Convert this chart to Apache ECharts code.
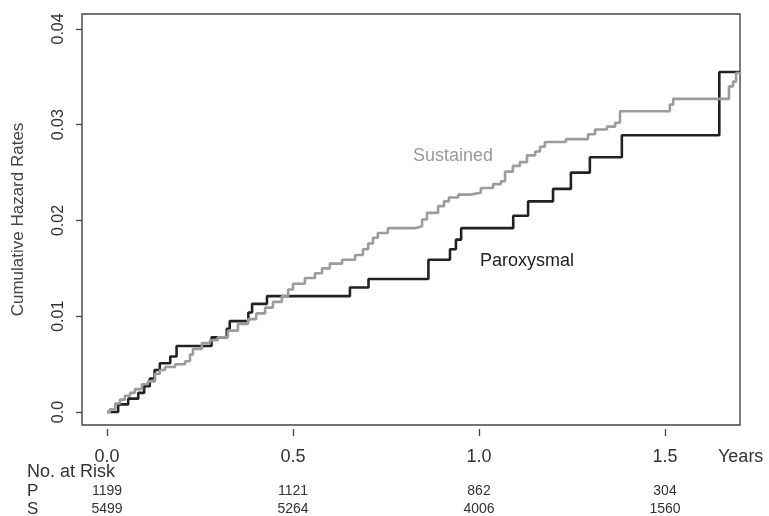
<!DOCTYPE html>
<html><head><meta charset="utf-8">
<script src="https://cdn.jsdelivr.net/npm/echarts@6/dist/echarts.min.js"></script>
<style>html,body{margin:0;padding:0;background:#fff}#c{width:769px;height:516px}</style>
</head><body><div id="c"></div>
<script>
const xTicks = [0, 0.5, 1.0, 1.5];
const xTickLabels = ['0.0', '0.5', '1.0', '1.5'];
const yTicks = [0, 0.01, 0.02, 0.03, 0.04];
const yTickLabels = ['0.0', '0.01', '0.02', '0.03', '0.04'];
const riskP = [1199, 1121, 862, 304];
const riskS = [5499, 5264, 4006, 1560];

const parTimes = [0,0.030,0.057,0.084,0.100,0.115,0.128,0.142,0.170,0.187,0.281,0.322,0.330,0.380,0.390,0.430,0.653,0.703,0.864,0.922,0.938,0.952,1.092,1.132,1.199,1.247,1.298,1.384,1.646,1.702];
const parValues = [0,0.0008,0.0014,0.0020,0.0027,0.0035,0.0044,0.0051,0.0058,0.0069,0.0078,0.0087,0.0095,0.0104,0.0113,0.0121,0.0130,0.0139,0.0159,0.0170,0.0180,0.0192,0.0205,0.0220,0.0233,0.0250,0.0266,0.0289,0.0355,0.0355];

const susTimes = [0,0.008,0.022,0.035,0.048,0.062,0.075,0.094,0.110,0.129,0.142,0.156,0.183,0.210,0.223,0.231,0.255,0.277,0.298,0.325,0.352,0.379,0.401,0.425,0.446,0.470,0.487,0.500,0.532,0.559,0.578,0.599,0.632,0.667,0.688,0.702,0.715,0.728,0.755,0.828,0.847,0.860,0.890,0.906,0.919,0.944,0.976,1.005,1.038,1.059,1.070,1.091,1.110,1.129,1.151,1.164,1.177,1.234,1.293,1.312,1.344,1.366,1.379,1.513,1.522,1.672,1.683,1.691,1.702];
const susValues = [0,0.0003,0.0009,0.0013,0.0017,0.0020,0.0024,0.0029,0.0032,0.0040,0.0044,0.0047,0.0050,0.0053,0.0060,0.0066,0.0072,0.0075,0.0078,0.0085,0.0092,0.0097,0.0103,0.0109,0.0115,0.0121,0.0128,0.0134,0.0140,0.0145,0.0150,0.0155,0.0159,0.0164,0.0170,0.0176,0.0182,0.0187,0.0192,0.0194,0.0201,0.0208,0.0215,0.0220,0.0224,0.0227,0.0229,0.0234,0.0238,0.0241,0.0251,0.0257,0.0261,0.0268,0.0272,0.0277,0.0282,0.0285,0.0290,0.0295,0.0298,0.0302,0.0314,0.0321,0.0327,0.0340,0.0345,0.0354,0.0355];

const FONT = 'Liberation Sans, Arial, Helvetica, sans-serif';
const X_MIN = -0.0672, X_MAX = 1.7016;
const Y_MIN = -0.00135, Y_MAX = 0.04156;

function lookup(ticks, labels) {
  return function (v) {
    for (let i = 0; i < ticks.length; i++) if (Math.abs(ticks[i] - v) < 1e-9) return String(labels[i]);
    return '';
  };
}

function riskAxis(values, offset) {
  return {
    type: 'value', min: X_MIN, max: X_MAX, position: 'bottom', offset: offset,
    axisLine: { show: false, onZero: false }, axisTick: { show: false }, splitLine: { show: false },
    axisLabel: {
      customValues: xTicks, margin: 0, fontFamily: FONT, fontSize: 14, color: '#333',
      formatter: lookup(xTicks, values)
    }
  };
}

const chart = echarts.init(document.getElementById('c'), null, { renderer: 'canvas' });
chart.setOption({
  animation: false,
  backgroundColor: '#fff',
  grid: { left: 82, right: 29, top: 14, bottom: 90, show: true, borderColor: '#444', borderWidth: 1.4, backgroundColor: 'transparent' },
  xAxis: [
    {
      type: 'value', min: X_MIN, max: X_MAX, position: 'bottom', offset: 4,
      axisLine: { show: false, onZero: false },
      axisTick: { show: true, customValues: xTicks, length: 7, lineStyle: { color: '#444', width: 1.3 } },
      splitLine: { show: false },
      axisLabel: { customValues: xTicks, margin: 19, fontFamily: FONT, fontSize: 18, color: '#333', formatter: lookup(xTicks, xTickLabels) }
    },
    riskAxis(riskP, 59),
    riskAxis(riskS, 77)
  ],
  yAxis: {
    type: 'value', min: Y_MIN, max: Y_MAX,
    axisLine: { show: false, onZero: false },
    axisTick: { show: true, customValues: yTicks, length: 6, lineStyle: { color: '#444', width: 1.3 } },
    splitLine: { show: false },
    axisLabel: { customValues: yTicks, rotate: 90, margin: 15, fontFamily: FONT, fontSize: 16, color: '#333', formatter: lookup(yTicks, yTickLabels) },
    name: 'Cumulative Hazard Rates', nameLocation: 'middle', nameGap: 55,
    nameTextStyle: { fontFamily: FONT, fontSize: 17, color: '#444' }
  },
  series: [
    {
      name: 'Paroxysmal', type: 'line', step: 'end', showSymbol: false, xAxisIndex: 0,
      lineStyle: { color: '#222', width: 2.6 },
      data: parTimes.map((t, i) => [t, parValues[i]]), z: 2
    },
    {
      name: 'Sustained', type: 'line', step: 'end', showSymbol: false, xAxisIndex: 0,
      lineStyle: { color: '#9c9c9c', width: 2.6 },
      data: susTimes.map((t, i) => [t, susValues[i]]), z: 3
    }
  ],
  graphic: [
    { type: 'text', left: 413, top: 147, style: { text: 'Sustained', fill: '#999', font: '18px ' + FONT } },
    { type: 'text', left: 480, top: 252, style: { text: 'Paroxysmal', fill: '#222', font: '18px ' + FONT } },
    { type: 'text', left: 718, top: 448, style: { text: 'Years', fill: '#333', font: '18px ' + FONT } },
    { type: 'text', left: 27, top: 463, style: { text: 'No. at Risk', fill: '#333', font: '18px ' + FONT } },
    { type: 'text', left: 27, top: 483, style: { text: 'P', fill: '#333', font: '17px ' + FONT } },
    { type: 'text', left: 27, top: 501, style: { text: 'S', fill: '#333', font: '17px ' + FONT } }
  ]
});
</script>
</body></html>
